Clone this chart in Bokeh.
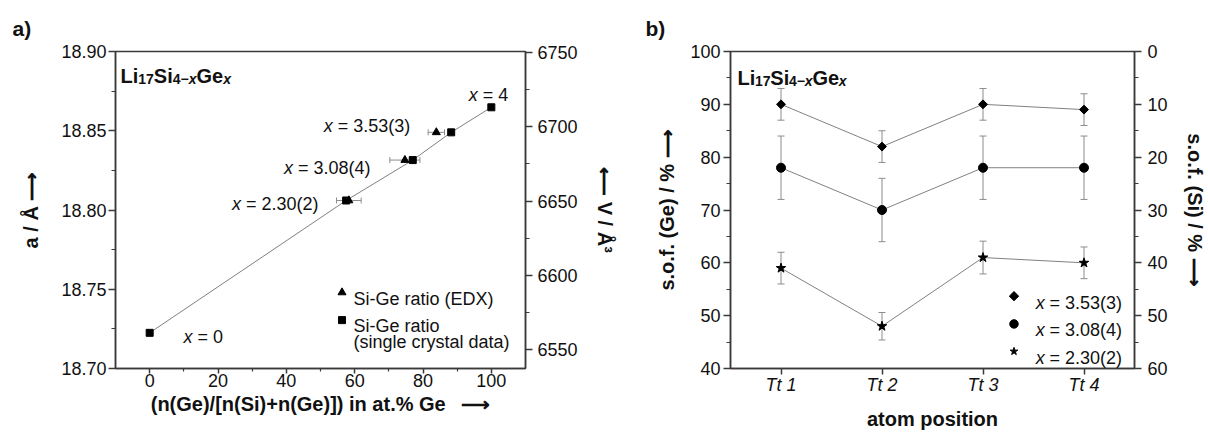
import math
from bokeh.plotting import figure
from bokeh.layouts import row
from bokeh.models import (Range1d, LinearAxis, FixedTicker, NumeralTickFormatter,
                          Label, Whisker, TeeHead, ColumnDataSource)
from bokeh.embed import file_html
from bokeh.resources import INLINE

# ---------------- data ----------------
# panel a)  lattice parameter vs. Ge content
ge_pct_xtal = [0.0, 57.5, 77.0, 88.25, 100.0]
a_xtal = [18.7225, 18.806, 18.8315, 18.849, 18.8648]
x_xtal_labels = ["0", "2.30(2)", "3.08(4)", "3.53(3)", "4"]
ge_pct_edx = [58.3, 74.7, 83.9]
a_edx = [18.806, 18.8315, 18.849]
ge_pct_edx_err = [3.6, 4.4, 2.4]
legend_a = ["Si-Ge ratio (EDX)", "Si-Ge ratio", "(single crystal data)"]

# panel b)  site occupation factors
atom_positions = [1, 2, 3, 4]
atom_labels = ["Tt 1", "Tt 2", "Tt 3", "Tt 4"]
series_names = ["3.53(3)", "3.08(4)", "2.30(2)"]
sof_353 = [90, 82, 90, 89]
err_353 = [3, 3, 3, 3]
sof_308 = [78, 70, 78, 78]
err_308 = [6, 6, 6, 6]
sof_230 = [59, 48, 61, 60]
err_230 = [3, 2.6, 3.1, 3]

# ---------------- style ----------------
TXT = "#111111"
AX = "#3a3a3a"
LN = "#808080"
ER = "#8c8c8c"
FONT = "Liberation Sans"

REG = {' ': 278, '(': 333, ')': 333, '.': 278, '/': 278, '=': 584, '+': 584, '-': 333,
       '\u2212': 584, '%': 889, '[': 278, ']': 278, 'A': 667, 'D': 722, 'E': 667, 'G': 778,
       'L': 556, 'S': 667, 'T': 611, 'V': 667, 'X': 667, 'a': 556, 'c': 500,
       'd': 556, 'e': 556, 'g': 556, 'h': 556, 'i': 222, 'l': 222, 'm': 833, 'n': 556,
       'o': 556, 'p': 556, 'r': 333, 's': 500, 't': 278, 'u': 556, 'x': 500, 'y': 500,
       'f': 278}
BLD = {' ': 278, '(': 333, ')': 333, '.': 278, '/': 278, '=': 584, '+': 584, '-': 333,
       '\u2212': 584, '%': 889, '[': 333, ']': 333, 'A': 722, 'G': 778, 'L': 611, 'S': 667,
       'T': 611, 'V': 667, 'a': 556, 'e': 556, 'f': 333, 'i': 278, 'l': 278,
       'm': 889, 'n': 611, 'o': 611, 'p': 611, 'r': 389, 's': 556, 't': 333, 'x': 556}


def tw(s, size, bold=False):
    t = BLD if bold else REG
    return sum(t.get(c, 556) for c in s) * size / 1000.0


def parts_width(parts):
    return sum(tw(p[0], p[1], "bold" in p[2]) for p in parts)


class Pane:
    """Converts picture pixel positions inside a frame to data coordinates."""

    def __init__(self, p, fx0, fx1, fy0, fy1):
        self.p, self.fx0, self.fx1, self.fy0, self.fy1 = p, fx0, fx1, fy0, fy1

    def d(self, px, py):
        xr, yr = self.p.x_range, self.p.y_range
        x = xr.start + (px - self.fx0) / (self.fx1 - self.fx0) * (xr.end - xr.start)
        y = yr.start + (self.fy1 - py) / (self.fy1 - self.fy0) * (yr.end - yr.start)
        return x, y

    def text(self, px, py, s, size, style="normal", align="left", baseline="alphabetic"):
        x, y = self.d(px, py)
        self.p.add_layout(Label(x=x, y=y, text=s, text_font=FONT,
                                text_font_size=f"{size:.1f}px", text_font_style=style,
                                text_align=align, text_baseline=baseline, text_color=TXT))

    def runs(self, px, py, parts):
        pos = 0.0
        for part in parts:
            s, size, style = part[:3]
            dy = part[3] if len(part) > 3 else 0.0
            bold = "bold" in style
            core = s.strip(" ")
            lead = len(s) - len(s.lstrip(" "))
            pos += lead * tw(" ", size, bold)
            self.text(px + pos, py + dy, core, size, style)
            pos += tw(core, size, bold)
            pos += (len(s) - lead - len(core)) * tw(" ", size, bold)
        return pos


def style_axis(ax, ticks, minor, fmt="0", tick_out=7, minor_out=4, standoff=3,
               label=None, label_standoff=10):
    ax.ticker = FixedTicker(ticks=ticks, minor_ticks=minor)
    ax.formatter = NumeralTickFormatter(format=fmt)
    ax.axis_line_color = AX
    ax.axis_line_width = 1.5
    ax.major_tick_line_color = AX
    ax.major_tick_line_width = 1.5
    ax.major_tick_in = 0
    ax.major_tick_out = tick_out
    ax.minor_tick_line_color = AX
    ax.minor_tick_line_width = 1.2
    ax.minor_tick_in = 0
    ax.minor_tick_out = minor_out
    ax.major_label_text_font = FONT
    ax.major_label_text_font_size = "18px"
    ax.major_label_text_color = TXT
    ax.major_label_standoff = standoff
    ax.axis_label = label
    ax.axis_label_text_font = FONT
    ax.axis_label_text_font_size = "20px"
    ax.axis_label_text_font_style = "bold"
    ax.axis_label_text_color = TXT
    ax.axis_label_standoff = label_standoff


def base_fig(width, xr, yr, bl, br, bt, bb, letter, letter_offset):
    p = figure(width=width, height=432, x_range=xr, y_range=yr, output_backend="svg",
               toolbar_location=None, min_border_left=bl, min_border_right=br,
               min_border_top=bt, min_border_bottom=bb, title=letter)
    p.grid.visible = False
    p.outline_line_color = AX
    p.outline_line_width = 1.5
    p.background_fill_color = "white"
    p.border_fill_color = "white"
    p.title.align = "left"
    p.title.offset = letter_offset
    p.title.standoff = 24
    p.title.text_font = FONT
    p.title.text_font_size = "21px"
    p.title.text_font_style = "bold"
    p.title.text_color = TXT
    return p


TITLE = [("Li", 20, "bold"), ("17", 14, "bold", 2.5), ("Si", 20, "bold"),
         ("4\u2212", 14, "bold", 2.5), ("x", 14, "bold italic", 2.5),
         ("Ge", 20, "bold"), ("x", 14, "bold italic", 2.5)]

# ================= panel a =================
pa = base_fig(628, Range1d(-10, 110), Range1d(18.70, 18.90), 115, 103, 51, 60, "a)", -103)
pa.extra_y_ranges = {"vol": Range1d(6537.5, 6750.5)}
ax_v = LinearAxis(y_range_name="vol")
pa.add_layout(ax_v, "right")
style_axis(pa.below[0], [0, 20, 40, 60, 80, 100], [10, 30, 50, 70, 90], "0",
           tick_out=5, minor_out=3, standoff=0,
           label="(n(Ge)/[n(Si)+n(Ge)]) in at.% Ge \u2002\u27f6", label_standoff=3)
style_axis(pa.left[0], [18.70, 18.75, 18.80, 18.85, 18.90],
           [18.725, 18.775, 18.825, 18.875], "0.00", standoff=2,
           label="a / \u00c5 \u27f6", label_standoff=16)
style_axis(ax_v, [6550, 6600, 6650, 6700, 6750], [6575, 6625, 6675, 6725], "0", standoff=5,
           label="\u27f5 V / \u00c5\u00b3", label_standoff=13)

A = Pane(pa, 115, 525, 51, 372)

pa.line(ge_pct_xtal, a_xtal, line_color=LN, line_width=1)
src_edx = ColumnDataSource(dict(
    y=a_edx,
    lo=[g - e for g, e in zip(ge_pct_edx, ge_pct_edx_err)],
    hi=[g + e for g, e in zip(ge_pct_edx, ge_pct_edx_err)]))
pa.add_layout(Whisker(source=src_edx, base="y", lower="lo", upper="hi", dimension="width",
                      line_color=ER, line_width=1,
                      upper_head=TeeHead(size=6, line_color=ER, line_width=1),
                      lower_head=TeeHead(size=6, line_color=ER, line_width=1)))
pa.scatter(ge_pct_edx, a_edx, marker="triangle", size=8, color="black")
pa.scatter(ge_pct_xtal, a_xtal, marker="square", size=7, color="black")

# point labels (layout: start/end px, baseline px)
pt_label_layout = [("start", 183, 340), ("end", 318, 205.5), ("end", 370, 169),
                   ("start", 323.3, 126.5), ("start", 468.3, 94.7)]
for lab, (mode, px, py) in zip(x_xtal_labels, pt_label_layout):
    parts = [("x", 18, "italic"), (" = " + lab, 18, "normal")]
    if mode == "end":
        px = px - parts_width(parts)
    A.runs(px, py, parts)

# legend a
lx, ly = A.d(341.5, 295)
pa.scatter([lx], [ly], marker="triangle", size=8, color="black")
lx, ly = A.d(341.5, 323)
pa.scatter([lx], [ly], marker="square", size=7, color="black")
A.text(353, 301.5, legend_a[0], 18)
A.text(353, 329, legend_a[1], 18)
A.text(353, 345.5, legend_a[2], 18)

A.runs(120, 76, TITLE)

# ================= panel b =================
pb = base_fig(580, Range1d(0.5, 4.5), Range1d(40, 100), 102, 69, 49, 63, "b)", -85)
pb.extra_y_ranges = {"si": Range1d(60, 0)}
ax_si = LinearAxis(y_range_name="si")
pb.add_layout(ax_si, "right")
style_axis(pb.below[0], atom_positions, [], "0", tick_out=6, minor_out=0, standoff=0,
           label="atom position", label_standoff=10)
pb.below[0].major_label_overrides = {k: lab for k, lab in zip(atom_positions, atom_labels)}
pb.below[0].major_label_text_font_style = "italic"
style_axis(pb.left[0], [40, 50, 60, 70, 80, 90, 100], [45, 55, 65, 75, 85, 95], "0",
           standoff=3, label="s.o.f. (Ge) / % \u27f6", label_standoff=9)
style_axis(ax_si, [0, 10, 20, 30, 40, 50, 60], [5, 15, 25, 35, 45, 55], "0", standoff=6,
           label="s.o.f. (Si) / % \u27f6", label_standoff=13)

B = Pane(pb, 730, 1139, 49, 369)

series = [(sof_353, err_353, "square", 6.3, math.pi / 4),
          (sof_308, err_308, "circle", 9, 0.0),
          (sof_230, err_230, "star", 10, 0.0)]
for vals, errs, marker, size, ang in series:
    pb.line(atom_positions, vals, line_color=LN, line_width=1)
    src = ColumnDataSource(dict(x=atom_positions,
                                lo=[v - e for v, e in zip(vals, errs)],
                                hi=[v + e for v, e in zip(vals, errs)]))
    pb.add_layout(Whisker(source=src, base="x", lower="lo", upper="hi", dimension="height",
                          line_color=ER, line_width=1,
                          upper_head=TeeHead(size=7, line_color=ER, line_width=1),
                          lower_head=TeeHead(size=7, line_color=ER, line_width=1)))
    pb.scatter(atom_positions, vals, marker=marker, size=size, angle=ang, color="black")

# legend b
leg_rows = [296, 324, 351.7]
leg_sizes = [6.6, 8.5, 8]
for name, (vals, errs, marker, size, ang), ry, ms in zip(series_names, series, leg_rows, leg_sizes):
    lx, ly = B.d(1017, ry)
    pb.scatter([lx], [ly], marker=marker, size=ms, angle=ang, color="black")
    B.runs(1039, ry + 6.4, [("x", 18, "italic"), (" = " + name, 18, "normal")])

B.runs(737, 76, TITLE)

layout = row(pa, pb)
open("out.html", "w").write(file_html(layout, INLINE, "Li17Si4-xGex"))
